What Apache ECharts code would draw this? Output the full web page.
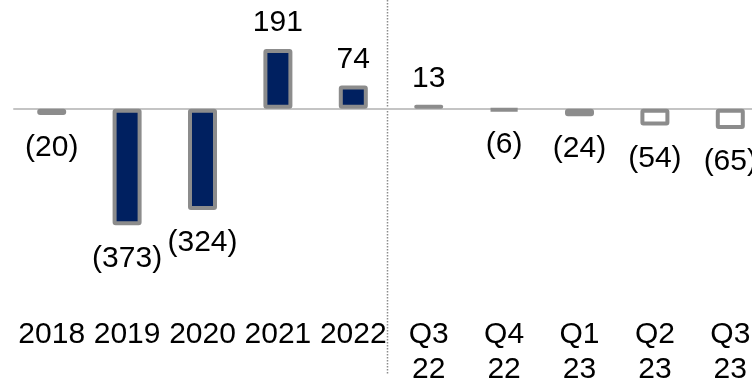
<!DOCTYPE html>
<html><head><meta charset="utf-8">
<script src="https://cdn.jsdelivr.net/npm/echarts@6/dist/echarts.min.js"></script>
<style>html,body{margin:0;padding:0;background:#fff}#c{width:752px;height:382px}</style>
</head><body><div id="c"></div>
<script>
const categories = ['2018','2019','2020','2021','2022','Q3\n22','Q4\n22','Q1\n23','Q2\n23','Q3\n23'];
const values = [-20, -373, -324, 191, 74, 13, -6, -24, -54, -65];
const periodType = ['year','year','year','year','year','quarter','quarter','quarter','quarter','quarter'];

const FONT = '"Liberation Sans", Arial, sans-serif';
const fillByType = { year: '#002060', quarter: '#ffffff' };

const chart = echarts.init(document.getElementById('c'), null, { renderer: 'canvas' });
const data = values.map((v, i) => ({
  value: v,
  itemStyle: { color: fillByType[periodType[i]] },
  label: { position: v < 0 ? 'bottom' : 'top', distance: v < 0 ? 18 : 11 }
}));

chart.setOption({
  animation: false,
  grid: { left: 14, right: -16, top: 8.7, bottom: 85.8, outerBoundsMode: 'none', containLabel: false },
  xAxis: [
    { type: 'category', data: categories,
      axisLine: { onZero: true, lineStyle: { color: '#c4c4c4', width: 2 } },
      axisTick: { show: false }, axisLabel: { show: false }, splitLine: { show: false } },
    { type: 'category', data: categories, position: 'bottom',
      axisLine: { show: false, onZero: false }, axisTick: { show: false }, splitLine: { show: false },
      axisLabel: { fontSize: 30, fontFamily: FONT, color: '#000', margin: 21, lineHeight: 35, interval: 0 } }
  ],
  yAxis: { type: 'value', min: -600, max: 320, show: false },
  series: [{
    type: 'bar', data, barWidth: 29, xAxisIndex: 0,
    itemStyle: { borderColor: '#8c8c8c', borderWidth: 4, borderRadius: 1 },
    label: { show: true, fontSize: 30, fontFamily: FONT, color: '#000',
      formatter: p => p.value < 0 ? '(' + (-p.value) + ')' : String(p.value) }
  }]
});

const firstQ = periodType.indexOf('quarter');
const xa = chart.convertToPixel({ xAxisIndex: 0 }, categories[firstQ - 1]);
const xb = chart.convertToPixel({ xAxisIndex: 0 }, categories[firstQ]);
const sx = Math.round((xa + xb) / 2 - 4) + 0.5;
chart.setOption({
  graphic: [{ type: 'line', shape: { x1: sx, y1: 0, x2: sx, y2: 375 },
    style: { stroke: '#8c8c8c', lineWidth: 1.5, lineDash: [1.5, 1.5] }, silent: true }]
});
</script>
</body></html>
